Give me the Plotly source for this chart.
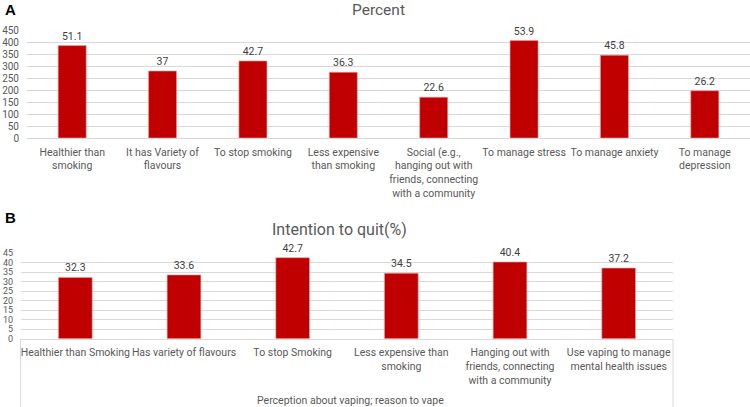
import plotly.graph_objects as go

W, H = 750, 407

# Panel A data
a_categories = ["Healthier than<br>smoking", "It has Variety of<br>flavours", "To stop smoking",
                "Less expensive<br>than smoking",
                "Social (e.g.,<br>hanging out with<br>friends, connecting<br>with a community",
                "To manage stress", "To manage anxiety", "To manage<br>depression"]
a_counts = [385, 279, 321, 274, 170, 406, 345, 197]
a_percent = [51.1, 37, 42.7, 36.3, 22.6, 53.9, 45.8, 26.2]
a_ticks = [0, 50, 100, 150, 200, 250, 300, 350, 400, 450]

# Panel B data
b_categories = ["Healthier than Smoking", "Has variety of flavours", "To stop Smoking",
                "Less expensive than<br>smoking",
                "Hanging out with<br>friends, connecting<br>with a community",
                "Use vaping to manage<br>mental health issues"]
b_values = [32.3, 33.6, 42.7, 34.5, 40.4, 37.2]
b_ticks = [0, 5, 10, 15, 20, 25, 30, 35, 40, 45]

RED = "#C00000"
GRAY = "#595959"
GRID = "#D9D9D9"
FONT = "Roboto"

def px_x(x):
    return x / W

def px_y(y):
    return (H - y) / H

fig = go.Figure()
fig.add_trace(go.Bar(
    x=a_categories, y=a_counts, text=[str(v) for v in a_percent],
    textposition="outside", textfont=dict(size=10.5, color="#404040", family=FONT),
    marker=dict(color=RED, line=dict(color="#E8A0A0", width=0.6)),
    width=0.31, cliponaxis=False, xaxis="x", yaxis="y", hoverinfo="skip"))
fig.add_trace(go.Bar(
    x=b_categories, y=b_values, text=[str(v) for v in b_values],
    textposition="outside", textfont=dict(size=10.5, color="#404040", family=FONT),
    marker=dict(color=RED, line=dict(color="#E8A0A0", width=0.6)),
    width=0.31, cliponaxis=False, xaxis="x2", yaxis="y2", hoverinfo="skip"))

axfont = dict(size=10.5, color=GRAY, family=FONT)
yfontA = dict(size=10, color=GRAY, family=FONT)
yfontB = dict(size=9, color=GRAY, family=FONT)
fig.update_layout(
    width=W, height=H, margin=dict(l=0, r=0, t=0, b=0),
    paper_bgcolor="white", plot_bgcolor="white", showlegend=False,
    font=dict(family=FONT, color=GRAY),
    xaxis=dict(domain=[px_x(27), px_x(750)], anchor="y", tickfont=axfont,
               showline=True, linecolor=GRID, linewidth=1, ticks="", showgrid=False,
               tickangle=0, automargin=False, ticklabelstandoff=4),
    yaxis=dict(domain=[px_y(138), px_y(30)], anchor="x", range=[0, 450],
               tickvals=a_ticks, tickfont=yfontA, showgrid=True, gridcolor=GRID,
               gridwidth=1, zeroline=False, ticklabelstandoff=7, automargin=False),
    xaxis2=dict(domain=[px_x(21), px_x(673)], anchor="y2", tickfont=axfont,
                showline=True, linecolor=GRID, linewidth=1, ticks="", showgrid=False,
                tickangle=0, automargin=False, ticklabelstandoff=4),
    yaxis2=dict(domain=[px_y(338.7), px_y(253.3)], anchor="x2", range=[0, 45],
                tickvals=b_ticks, tickfont=yfontB, showgrid=True, gridcolor=GRID,
                gridwidth=1, zeroline=False, ticklabelstandoff=7, automargin=False),
)

annotations = [
    dict(text="<b>A</b>", x=px_x(3), y=px_y(10), xref="paper", yref="paper",
         xanchor="left", yanchor="middle", showarrow=False,
         font=dict(size=15, color="black", family="Liberation Sans")),
    dict(text="<b>B</b>", x=px_x(3), y=px_y(217), xref="paper", yref="paper",
         xanchor="left", yanchor="middle", showarrow=False,
         font=dict(size=15, color="black", family="Liberation Sans")),
    dict(text="Percent", x=px_x(378), y=px_y(0), xref="paper", yref="paper",
         xanchor="center", yanchor="top", showarrow=False,
         font=dict(size=15.5, color=GRAY, family=FONT), borderpad=0),
    dict(text="Intention to quit(%)", x=px_x(339), y=px_y(229), xref="paper", yref="paper",
         xanchor="center", yanchor="middle", showarrow=False,
         font=dict(size=16, color=GRAY, family=FONT)),
    dict(text="Perception about vaping; reason to vape", x=px_x(350), y=px_y(400),
         xref="paper", yref="paper", xanchor="center", yanchor="middle", showarrow=False,
         font=dict(size=10.5, color=GRAY, family=FONT)),
]
fig.update_layout(annotations=annotations)

shapes = [
    dict(type="line", xref="paper", yref="paper", x0=px_x(20.5), x1=px_x(20.5),
         y0=px_y(339), y1=0, line=dict(color=GRID, width=1)),
    dict(type="line", xref="paper", yref="paper", x0=px_x(673), x1=px_x(673),
         y0=px_y(339), y1=0, line=dict(color=GRID, width=1)),
]
fig.update_layout(shapes=shapes)

fig.write_html("out.html")
